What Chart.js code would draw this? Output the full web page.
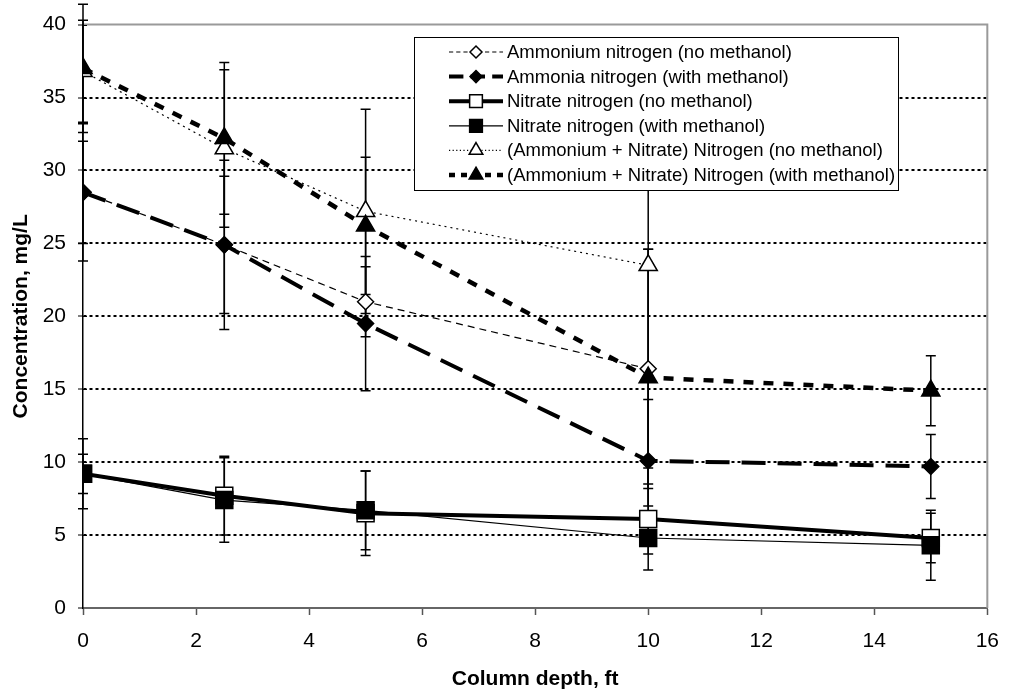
<!DOCTYPE html>
<html>
<head>
<meta charset="utf-8">
<script src="https://cdn.jsdelivr.net/npm/chart.js@4.4.1/dist/chart.umd.min.js"></script>
<style>
  body { margin: 0; background: #fff; }
  canvas { display: block; }
</style>
</head>
<body>
<canvas id="lineChart" width="1013" height="698"></canvas>
<script>
// Column depth (ft) where samples were taken
const depths = [0, 2.5, 5, 10, 15];

// Concentrations, mg/L (null = not measured)
const ammoniumNoMeth = [28.5, 24.9, 21.0, 16.4, null];
const ammoniaWithMeth = [28.5, 24.9, 19.5, 10.1, 9.7];
const nitrateNoMeth = [9.2, 7.7, 6.5, 6.1, 4.8];
const nitrateWithMeth = [9.2, 7.4, 6.7, 4.8, 4.3];
const totalNoMeth = [36.8, 31.5, 27.2, 23.5, null];
const totalWithMeth = [37.0, 32.2, 26.2, 15.8, 14.9];

// +/- error bar half widths, mg/L
const ammoniumNoMethErr = [3.5, 4.7, 2.4, 8.2, null];
const ammoniaWithMethErr = [4.7, 5.8, 4.6, 4.2, 2.2];
const nitrateNoMethErr = [1.35, 2.7, 2.9, 3.5, 1.7];
const nitrateWithMethErr = [2.4, 2.9, 2.7, 1.1, 2.4];
const totalNoMethErr = [3.5, 5.4, 7.0, 15.0, null];
const totalWithMethErr = [4.4, 5.2, 4.7, 8.8, 2.4];

const seriesLabels = [
  "Ammonium nitrogen (no methanol)",
  "Ammonia nitrogen (with methanol)",
  "Nitrate nitrogen (no methanol)",
  "Nitrate nitrogen (with methanol)",
  "(Ammonium + Nitrate) Nitrogen (no methanol)",
  "(Ammonium + Nitrate) Nitrogen (with methanol)",
];

function toPoints(values) {
  const pts = [];
  values.forEach((v, i) => {
    if (v != null) pts.push({ x: depths[i], y: v });
  });
  return pts;
}

function makeSet(idx, values, errors, style) {
  return Object.assign(
    {
      label: seriesLabels[idx],
      data: toPoints(values),
      errorBars: errors,
      values: values,
      borderColor: "#000",
      pointBorderColor: "#000",
      pointBorderWidth: 1.5,
      pointHoverRadius: 0,
      fill: false,
      tension: 0,
      order: 6 - idx,
    },
    style
  );
}

const datasets = [
  makeSet(0, ammoniumNoMeth, ammoniumNoMethErr, {
    borderWidth: 1.2, borderDash: [7, 5],
    pointStyle: "rectRot", pointRadius: 8, pointBackgroundColor: "#fff",
  }),
  makeSet(1, ammoniaWithMeth, ammoniaWithMethErr, {
    borderWidth: 4, borderDash: [24, 12],
    pointStyle: "rectRot", pointRadius: 8, pointBackgroundColor: "#000",
  }),
  makeSet(2, nitrateNoMeth, nitrateNoMethErr, {
    borderWidth: 4, borderDash: [],
    pointStyle: "rect", pointRadius: 12, pointBackgroundColor: "#fff",
  }),
  makeSet(3, nitrateWithMeth, nitrateWithMethErr, {
    borderWidth: 1.2, borderDash: [],
    pointStyle: "rect", pointRadius: 12, pointBackgroundColor: "#000",
  }),
  makeSet(4, totalNoMeth, totalNoMethErr, {
    borderWidth: 1.2, borderDash: [2, 4],
    pointStyle: "triangle", pointRadius: 10.5, pointBackgroundColor: "#fff",
  }),
  makeSet(5, totalWithMeth, totalWithMethErr, {
    borderWidth: 4.5, borderDash: [10, 10],
    pointStyle: "triangle", pointRadius: 10.5, pointBackgroundColor: "#000",
  }),
];

// error bars + plot frame, drawn under the markers
const errorBarPlugin = {
  id: "errorBars",
  beforeDatasetsDraw(chart) {
    const { ctx, chartArea, scales } = chart;
    ctx.save();
    // gray frame on top and right
    ctx.strokeStyle = "#9a9a9a";
    ctx.lineWidth = 2;
    ctx.beginPath();
    ctx.moveTo(chartArea.left, chartArea.top);
    ctx.lineTo(chartArea.right, chartArea.top);
    ctx.lineTo(chartArea.right, chartArea.bottom);
    ctx.stroke();
    // inner part of the y tick marks
    ctx.strokeStyle = "#000";
    ctx.lineWidth = 1;
    for (let v = 5; v <= 40; v += 5) {
      const py = Math.round(scales.y.getPixelForValue(v)) + 0.5;
      ctx.beginPath();
      ctx.moveTo(chartArea.left, py);
      ctx.lineTo(chartArea.left + 4, py);
      ctx.stroke();
    }
    // error bars
    ctx.lineWidth = 1.5;
    ctx.strokeStyle = "#000";
    chart.data.datasets.forEach((ds) => {
      ds.values.forEach((v, i) => {
        const e = ds.errorBars[i];
        if (v == null || e == null) return;
        const px = scales.x.getPixelForValue(depths[i]);
        const top = scales.y.getPixelForValue(v + e);
        const bot = scales.y.getPixelForValue(v - e);
        ctx.beginPath();
        ctx.moveTo(px, top);
        ctx.lineTo(px, bot);
        ctx.moveTo(px - 5, top);
        ctx.lineTo(px + 5, top);
        ctx.moveTo(px - 5, bot);
        ctx.lineTo(px + 5, bot);
        ctx.stroke();
      });
    });
    ctx.restore();
  },
};

// boxed legend with line samples like the original
const boxLegendPlugin = {
  id: "boxLegend",
  afterDraw(chart) {
    const ctx = chart.ctx;
    const box = { x: 414.5, y: 37.5, w: 484, h: 153 };
    ctx.save();
    ctx.fillStyle = "#fff";
    ctx.fillRect(box.x, box.y, box.w, box.h);
    ctx.strokeStyle = "#000";
    ctx.lineWidth = 1;
    ctx.strokeRect(box.x, box.y, box.w, box.h);
    ctx.font = "18.5px 'Liberation Sans', Arial, sans-serif";
    ctx.textBaseline = "middle";
    chart.data.datasets.forEach((ds, i) => {
      const cy = 52 + i * 24.6;
      ctx.strokeStyle = "#000";
      ctx.lineWidth = ds.borderWidth;
      ctx.setLineDash(ds.borderDash.length ? ds.borderDash.map((d) => d * 0.6) : []);
      ctx.beginPath();
      ctx.moveTo(449, cy);
      ctx.lineTo(503, cy);
      ctx.stroke();
      ctx.setLineDash([]);
      ctx.fillStyle = ds.pointBackgroundColor;
      ctx.lineWidth = 1.5;
      Chart.helpers.drawPoint(
        ctx,
        { pointStyle: ds.pointStyle, radius: ds.pointRadius * 0.75, rotation: 0, borderWidth: 1.5 },
        476,
        cy
      );
      ctx.fillStyle = "#000";
      ctx.fillText(ds.label, 507, cy + 1);
    });
    ctx.restore();
  },
};

const fontFamily = "'Liberation Sans', Arial, sans-serif";

new Chart(document.getElementById("lineChart").getContext("2d"), {
  type: "line",
  data: { datasets: datasets },
  options: {
    responsive: false,
    animation: false,
    devicePixelRatio: 1,
    layout: { padding: { left: 0, top: 18, right: 24, bottom: 0 } },
    plugins: {
      legend: { display: false },
      tooltip: { enabled: false },
    },
    scales: {
      x: {
        type: "linear",
        min: 0,
        max: 16,
        ticks: {
          stepSize: 2,
          color: "#000",
          padding: 14,
          font: { family: fontFamily, size: 21 },
        },
        grid: { drawOnChartArea: false, tickLength: 7, tickColor: "#555", tickWidth: 1.5 },
        border: { color: "#666", width: 2 },
        title: {
          display: true,
          text: "Column depth, ft",
          color: "#000",
          font: { family: fontFamily, size: 21, weight: "bold" },
          padding: { top: 0, bottom: 6 },
        },
        afterFit(scale) {
          scale.height = 90;
        },
      },
      y: {
        min: 0,
        max: 40,
        ticks: {
          stepSize: 5,
          color: "#000",
          padding: 12,
          font: { family: fontFamily, size: 21 },
        },
        grid: {
          color: (c) => (c.tick && c.tick.value > 0 && c.tick.value < 40 ? "#000" : "rgba(0,0,0,0)"),
          lineWidth: 2,
          tickColor: "#000",
          tickLength: 5,
          tickWidth: 1,
        },
        border: { color: "#000", width: 1.5, dash: [3, 3] },
        title: {
          display: true,
          text: "Concentration, mg/L",
          color: "#000",
          font: { family: fontFamily, size: 21, weight: "bold" },
          padding: { top: 9, bottom: 0 },
        },
        afterFit(scale) {
          scale.width = 83;
        },
      },
    },
  },
  plugins: [errorBarPlugin, boxLegendPlugin],
});
</script>
</body>
</html>
